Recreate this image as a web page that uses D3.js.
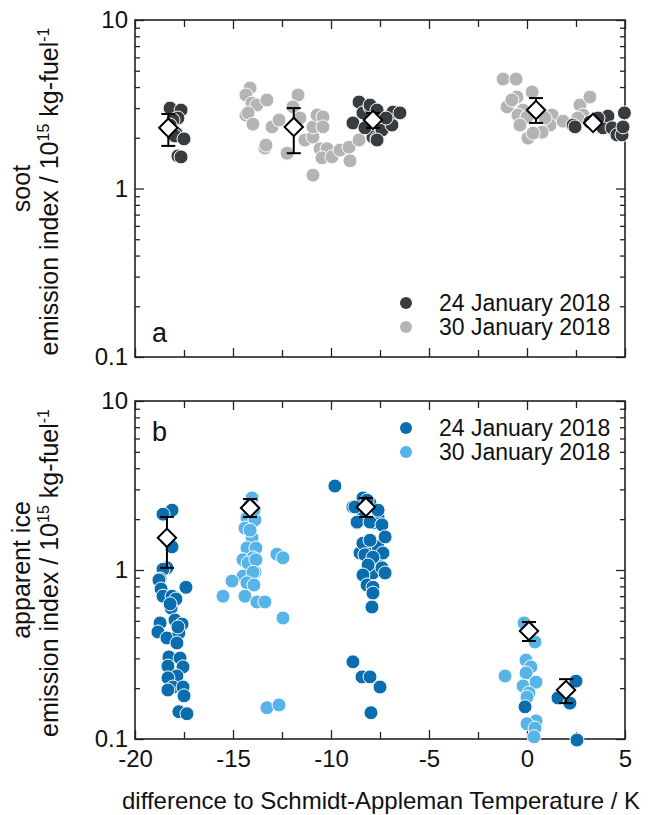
<!DOCTYPE html>
<html>
<head>
<meta charset="utf-8">
<script src="https://cdn.jsdelivr.net/npm/d3@7"></script>
<style>
  body { margin: 0; background: #fff; }
  text { font-family: "Liberation Sans", Arial, sans-serif; fill: #111; }
</style>
</head>
<body>
<svg id="chart"></svg>
<script>
const w = 654;
const h = 815;

const dates = ["24 January 2018", "30 January 2018"];
const xTicks = [-20, -15, -10, -5, 0, 5];
const xMinor = [-17.5, -12.5, -7.5, -2.5, 2.5];
const yTicks = [0.1, 1, 10];
const yMinor = [0.2, 0.3, 0.4, 0.5, 0.6, 0.7, 0.8, 0.9, 2, 3, 4, 5, 6, 7, 8, 9];

// panel a: soot, 24 Jan
const sootJan24 = [
  [-18.21, 3.00], [-17.65, 2.92], [-17.81, 2.62], [-18.06, 2.55], [-18.21, 2.38], [-18.37, 2.29],
  [-17.91, 2.13], [-17.96, 2.05], [-17.5, 1.97], [-17.81, 1.56], [-17.65, 1.54],
  [-8.57, 3.26], [-8.88, 2.45], [-8.37, 2.81], [-8.01, 3.05], [-7.86, 2.02], [-7.65, 1.99],
  [-8.01, 3.13], [-7.65, 2.92], [-7.40, 2.22], [-7.65, 1.94], [-6.89, 2.38], [-6.84, 2.84],
  [-6.48, 2.81], [-7.86, 2.55], [-8.27, 2.29], [-7.19, 2.62],
  [2.35, 2.38], [2.45, 2.32], [3.88, 2.29], [4.13, 2.69], [4.34, 2.29], [4.59, 2.08],
  [4.85, 2.08], [4.90, 2.32], [4.97, 2.81], [3.21, 2.48], [3.62, 2.62]
];
// panel a: soot, 30 Jan
const sootJan30 = [
  [-14.13, 3.95], [-14.34, 3.59], [-14.03, 3.21], [-13.78, 3.13], [-13.27, 3.35], [-14.34, 2.73],
  [-14.23, 2.81], [-13.98, 2.41], [-13.37, 1.74], [-13.32, 1.81], [-13.01, 2.32], [-12.65, 2.55],
  [-12.24, 1.62], [-11.68, 3.59], [-11.94, 3.05], [-11.58, 2.62], [-10.92, 1.20], [-11.33, 1.94],
  [-10.92, 2.02], [-10.92, 2.32], [-10.71, 2.73], [-10.41, 2.66], [-10.41, 2.32], [-10.56, 1.72],
  [-10.20, 1.72], [-10.46, 1.52], [-9.95, 1.54], [-9.54, 1.69], [-9.08, 1.76], [-9.03, 1.46],
  [-8.57, 1.94], [-7.40, 2.62],
  [-1.22, 4.46], [-0.56, 4.46], [-0.87, 3.21], [-1.02, 3.05], [-0.51, 3.49], [0.26, 3.74],
  [-0.20, 2.92], [-0.46, 2.73], [0.0, 2.66], [1.28, 2.73], [1.17, 2.38], [0.05, 1.99],
  [0.77, 2.16], [0.31, 2.13], [-0.36, 2.38], [1.84, 2.51], [2.70, 3.13], [3.21, 3.49],
  [2.86, 2.73], [2.60, 2.62], [0.92, 2.62], [-0.77, 3.35]
];
// panel a: means [x, mean, low, high]
const sootMeans = [
  [-18.3, 2.29, 1.79, 2.77], [-11.9, 2.32, 1.62, 3.0], [-7.86, 2.55, 2.29, 2.81],
  [0.46, 2.92, 2.45, 3.44], [3.37, 2.45, 2.40, 2.50]
];

// panel b: apparent ice, 24 Jan
const iceJan24 = [
  [-18.11, 2.26], [-18.57, 2.14], [-18.11, 1.37], [-18.37, 1.03], [-18.57, 1.01], [-18.72, 0.885],
  [-18.78, 0.873], [-18.67, 0.772], [-18.57, 0.70], [-18.11, 0.70], [-17.91, 0.673], [-18.16, 0.596],
  [-17.40, 0.79], [-18.72, 0.486], [-18.83, 0.43], [-18.37, 0.396], [-17.96, 0.506], [-17.60, 0.479],
  [-17.76, 0.424], [-17.86, 0.37], [-18.27, 0.306], [-17.70, 0.301], [-18.32, 0.27], [-17.55, 0.267],
  [-17.86, 0.236], [-18.32, 0.23], [-18.06, 0.203], [-17.55, 0.203], [-18.32, 0.195], [-17.5, 0.18],
  [-17.76, 0.145], [-17.35, 0.141], [-18.21, 0.63], [-17.81, 0.46],
  [-9.80, 3.14],
  [-8.37, 2.67], [-8.88, 2.36], [-8.01, 2.49], [-8.37, 2.06], [-8.67, 1.90], [-7.86, 1.90],
  [-7.60, 2.06], [-8.27, 1.44], [-8.52, 1.26], [-8.01, 1.26], [-7.60, 1.37], [-7.65, 1.15],
  [-8.27, 0.96], [-7.86, 0.96], [-8.78, 2.36], [-8.16, 2.59], [-7.60, 2.26], [-8.67, 1.92],
  [-8.01, 1.92], [-7.40, 1.85], [-8.37, 1.44], [-8.01, 1.50], [-7.24, 1.57], [-7.35, 1.26],
  [-8.27, 1.23], [-7.86, 1.19], [-8.11, 1.07], [-7.40, 1.03], [-7.24, 0.96], [-8.37, 0.934],
  [-8.16, 0.815], [-7.86, 0.79], [-7.86, 0.73], [-7.91, 0.604],
  [-8.88, 0.286], [-8.42, 0.233], [-8.01, 0.233], [-7.50, 0.203], [-7.96, 0.143],
  [-0.10, 0.155],
  [1.58, 0.175], [2.19, 0.163], [2.50, 0.22], [2.55, 0.0986]
];
// panel b: apparent ice, 30 Jan
const iceJan30 = [
  [-14.03, 2.67], [-14.29, 2.03], [-13.88, 1.98], [-14.39, 1.77], [-14.03, 1.55], [-14.29, 1.35],
  [-13.83, 1.35], [-14.49, 1.15], [-13.98, 1.18], [-13.88, 0.97], [-14.23, 1.10], [-13.83, 1.15],
  [-14.49, 0.92], [-13.98, 0.97], [-14.29, 0.84], [-15.05, 0.86], [-15.51, 0.70], [-14.39, 0.70],
  [-13.78, 0.647], [-13.37, 0.647], [-12.45, 0.52], [-13.27, 0.153], [-12.65, 0.159], [-12.76, 1.24],
  [-12.45, 1.18], [-14.13, 2.42], [-13.93, 2.26], [-14.13, 1.72], [-13.93, 0.815],
  [-0.15, 0.486], [0.41, 0.375], [-0.05, 0.293], [0.20, 0.267], [-1.12, 0.236], [-0.05, 0.246],
  [-0.20, 0.206], [0.46, 0.217], [0.10, 0.187], [0.0, 0.177], [0.46, 0.128], [0.0, 0.123],
  [0.41, 0.116], [0.36, 0.103]
];
const iceMeans = [
  [-18.37, 1.55, 1.03, 2.06], [-14.13, 2.33, 2.06, 2.63], [-8.22, 2.36, 2.06, 2.67],
  [0.10, 0.436, 0.38, 0.492], [1.99, 0.195, 0.163, 0.226]
];

const left = 135, right = 625;
const tickFont = 24;
const titleFont = 25;
const legendFont = 23;
const fmt = d => String(d);

var chart = d3.select("#chart").attr("width", w).attr("height", h);

const xScale = d3.scaleLinear().domain([-20, 5]).range([left, right]);

const panels = [
  { top: 20, bottom: 357, series: [sootJan30, sootJan24], colors: ["#b4b4b4", "#383c40"],
    means: sootMeans, label: "a", labelY: 342, legendY: 303,
    title1: "soot", showX: false },
  { top: 401, bottom: 739, series: [iceJan30, iceJan24], colors: ["#56b4e9", "#0a6dad"],
    means: iceMeans, label: "b", labelY: 441, legendY: 428,
    title1: "apparent ice", showX: true }
];

panels.forEach(function(p) {
  const yScale = d3.scaleLog().domain([0.1, 10]).range([p.bottom, p.top]);
  const g = chart.append("g");

  // minor ticks
  g.append("g").attr("transform", `translate(${left},0)`)
    .call(d3.axisLeft(yScale).tickValues(yMinor).tickSize(-5).tickFormat(""));
  g.append("g").attr("transform", `translate(${right},0)`)
    .call(d3.axisRight(yScale).tickValues(yMinor).tickSize(-5).tickFormat(""));
  g.append("g").attr("transform", `translate(0,${p.bottom})`)
    .call(d3.axisBottom(xScale).tickValues(xMinor).tickSize(-7).tickFormat(""));
  g.append("g").attr("transform", `translate(0,${p.top})`)
    .call(d3.axisTop(xScale).tickValues(xMinor).tickSize(-7).tickFormat(""));

  // major ticks
  g.append("g").attr("class", "y-axis").attr("transform", `translate(${left},0)`)
    .call(d3.axisLeft(yScale).tickValues(yTicks).tickSize(-9).tickPadding(7).tickFormat(fmt));
  g.append("g").attr("transform", `translate(${right},0)`)
    .call(d3.axisRight(yScale).tickValues(yTicks).tickSize(-9).tickFormat(""));
  g.append("g").attr("class", "x-axis").attr("transform", `translate(0,${p.bottom})`)
    .call(d3.axisBottom(xScale).tickValues(xTicks).tickSize(-9).tickPadding(11)
      .tickFormat(p.showX ? fmt : ""));
  g.append("g").attr("transform", `translate(0,${p.top})`)
    .call(d3.axisTop(xScale).tickValues(xTicks).tickSize(-9).tickFormat(""));

  g.selectAll(".domain").remove();
  g.selectAll(".tick line").attr("stroke", "#222").attr("stroke-width", 1.3);
  g.selectAll(".tick text").attr("font-size", tickFont).attr("fill", "#111")
    .attr("font-family", "Liberation Sans, Arial, sans-serif");

  g.append("rect")
    .attr("x", left).attr("y", p.top)
    .attr("width", right - left).attr("height", p.bottom - p.top)
    .attr("fill", "none").attr("stroke", "#222").attr("stroke-width", 1.6);

  // points
  p.series.forEach(function(s, i) {
    g.append("g").selectAll("circle").data(s).join("circle")
      .attr("cx", d => xScale(d[0]))
      .attr("cy", d => yScale(d[1]))
      .attr("r", 7)
      .attr("fill", p.colors[i])
      .attr("stroke", "#fff")
      .attr("stroke-width", 1);
  });

  // error bars and mean diamonds
  const m = g.append("g").selectAll("g").data(p.means).join("g");
  m.append("line")
    .attr("x1", d => xScale(d[0])).attr("x2", d => xScale(d[0]))
    .attr("y1", d => yScale(d[2])).attr("y2", d => yScale(d[3]))
    .attr("stroke", "#000").attr("stroke-width", 2);
  [2, 3].forEach(function(k) {
    m.append("line")
      .attr("x1", d => xScale(d[0]) - 7).attr("x2", d => xScale(d[0]) + 7)
      .attr("y1", d => yScale(d[k])).attr("y2", d => yScale(d[k]))
      .attr("stroke", "#000").attr("stroke-width", 2);
  });
  m.append("path")
    .attr("transform", d => `translate(${xScale(d[0])},${yScale(d[1])}) rotate(45)`)
    .attr("d", "M-6.5,-6.5H6.5V6.5H-6.5Z")
    .attr("fill", "#fff").attr("stroke", "#000").attr("stroke-width", 2);

  // panel letter
  g.append("text").attr("x", 152).attr("y", p.labelY)
    .attr("font-size", 27).text(p.label);

  // legend
  dates.forEach(function(dt, i) {
    const ly = p.legendY + i * 24;
    g.append("circle").attr("cx", 406).attr("cy", ly).attr("r", 6)
      .attr("fill", p.colors[1 - i]);
    g.append("text").attr("x", 439).attr("y", ly + 8)
      .attr("font-size", legendFont).text(dt);
  });

  // y titles
  const cy = (p.top + p.bottom) / 2;
  g.append("text")
    .attr("transform", `translate(30,${cy}) rotate(-90)`)
    .attr("text-anchor", "middle").attr("font-size", titleFont).text(p.title1);
  const t2 = g.append("text")
    .attr("transform", `translate(58,${cy + 3}) rotate(-90)`)
    .attr("text-anchor", "middle").attr("font-size", titleFont);
  t2.append("tspan").text("emission index / 10");
  t2.append("tspan").attr("dy", -9).attr("font-size", 16).text("15");
  t2.append("tspan").attr("dy", 9).text(" kg-fuel");
  t2.append("tspan").attr("dy", -9).attr("font-size", 16).text("-1");
});

chart.append("text")
  .attr("x", 381).attr("y", 809)
  .attr("text-anchor", "middle").attr("font-size", 24)
  .text("difference to Schmidt-Appleman Temperature / K");
</script>
</body>
</html>
